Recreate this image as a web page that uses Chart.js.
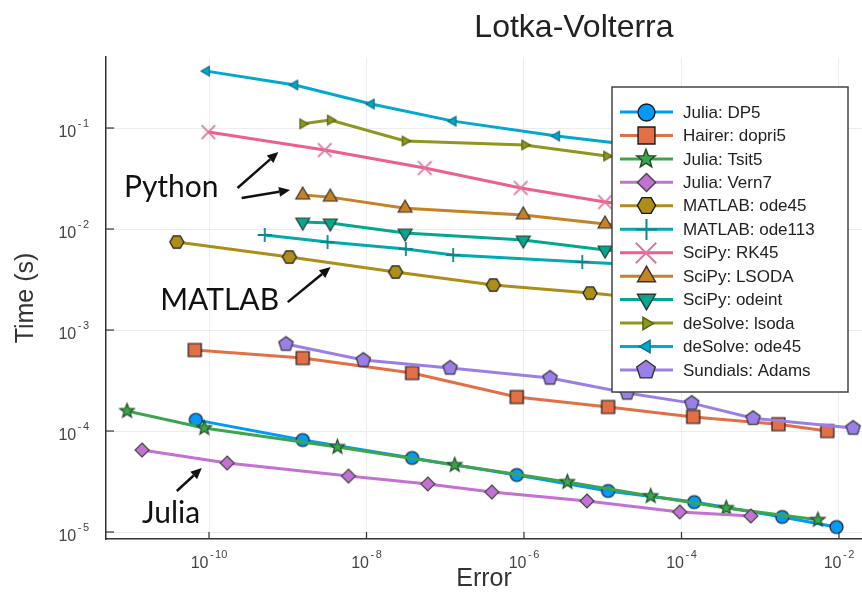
<!DOCTYPE html>
<html>
<head>
<meta charset="utf-8">
<title>Lotka-Volterra</title>
<script src="https://cdn.jsdelivr.net/npm/chart.js@4.4.0/dist/chart.umd.min.js"></script>
<style>
  html, body { margin: 0; padding: 0; background: #fff; }
  #wrap { width: 862px; height: 594px; }
</style>
</head>
<body>
<div id="wrap"><canvas id="lvChart" width="862" height="594"></canvas></div>
<script>
const FONT = "'Liberation Sans', Arial, sans-serif";

const seriesNames = [
    'Julia: DP5', 'Hairer: dopri5', 'Julia: Tsit5', 'Julia: Vern7',
    'MATLAB: ode45', 'MATLAB: ode113', 'SciPy: RK45', 'SciPy: LSODA',
    'SciPy: odeint', 'deSolve: lsoda', 'deSolve: ode45', 'Sundials: Adams'
];
const seriesColors = [
    '#009AFA', '#E36F47', '#3EA44E', '#C371D2',
    '#AC8E18', '#00AAAE', '#ED5E93', '#C68225',
    '#00A98D', '#8E971E', '#00A9CD', '#9B7FE8'
];

// error / time (s) per solver
const dp5Err = [6.8e-11, 1.55e-9, 3.8e-8, 8.1e-7, 1.17e-5, 1.45e-4, 1.9e-3, 9.3e-3];
const dp5Time = [1.29e-4, 8.15e-5, 5.41e-5, 3.67e-5, 2.55e-5, 1.98e-5, 1.41e-5, 1.12e-5];
const dopriErr = [6.6e-11, 1.55e-9, 3.8e-8, 8.1e-7, 1.17e-5, 1.41e-4, 1.7e-3, 7.1e-3];
const dopriTime = [6.34e-4, 5.28e-4, 3.75e-4, 2.17e-4, 1.73e-4, 1.38e-4, 1.17e-4, 1.0e-4];
const tsit5Err = [9.1e-12, 8.7e-11, 4.27e-9, 1.32e-7, 3.55e-6, 4.07e-5, 3.7e-4, 5.4e-3];
const tsit5Time = [1.58e-4, 1.07e-4, 6.95e-5, 4.61e-5, 3.13e-5, 2.27e-5, 1.73e-5, 1.32e-5];
const vern7Err = [1.41e-11, 1.7e-10, 5.9e-9, 6.0e-8, 3.9e-7, 6.3e-6, 9.5e-5, 7.6e-4];
const vern7Time = [6.48e-5, 4.82e-5, 3.58e-5, 2.99e-5, 2.49e-5, 2.03e-5, 1.58e-5, 1.44e-5];
const mlOde45Err = [3.9e-11, 1.05e-9, 2.34e-8, 4.07e-7, 6.9e-6, 1.0e-4];
const mlOde45Time = [7.43e-3, 5.28e-3, 3.75e-3, 2.79e-3, 2.32e-3, 1.9e-3];
const ode113Err = [5.1e-10, 3.2e-9, 3.16e-8, 1.26e-7, 5.5e-6, 1.0e-4];
const ode113Time = [8.73e-3, 7.43e-3, 6.34e-3, 5.53e-3, 4.71e-3, 4.2e-3];
const rk45Err = [9.8e-11, 2.95e-9, 5.5e-8, 9.1e-7, 1.07e-5, 1.7e-4];
const rk45Time = [0.0912, 0.0605, 0.0402, 0.0255, 0.0185, 0.0138];
const lsodaErr = [1.55e-9, 3.47e-9, 3.09e-8, 9.8e-7, 1.07e-5, 1.26e-4];
const lsodaTime = [0.0217, 0.0207, 0.0161, 0.0138, 0.0112, 0.0095];
const odeintErr = [1.55e-9, 3.47e-9, 3.09e-8, 9.8e-7, 1.07e-5, 1.26e-4];
const odeintTime = [0.01172, 0.01146, 0.00912, 0.00778, 0.00619, 0.0052];
const dsLsodaErr = [1.55e-9, 3.47e-9, 3.09e-8, 1.02e-6, 1.12e-5, 1.29e-4];
const dsLsodaTime = [0.110, 0.120, 0.0743, 0.068, 0.0528, 0.043];
const dsOde45Err = [9.3e-11, 1.23e-9, 1.15e-8, 1.26e-7, 2.6e-6, 4.0e-5];
const dsOde45Time = [0.366, 0.267, 0.173, 0.117, 0.0833, 0.065];
const adamsErr = [9.5e-10, 9.1e-9, 1.15e-7, 2.14e-6, 2.04e-5, 1.35e-4, 8.1e-4, 1.51e-2];
const adamsTime = [7.26e-4, 5.04e-4, 4.21e-4, 3.35e-4, 2.38e-4, 1.89e-4, 1.34e-4, 1.07e-4];

const allErr = [dp5Err, dopriErr, tsit5Err, vern7Err, mlOde45Err, ode113Err, rk45Err, lsodaErr, odeintErr, dsLsodaErr, dsOde45Err, adamsErr];
const allTime = [dp5Time, dopriTime, tsit5Time, vern7Time, mlOde45Time, ode113Time, rk45Time, lsodaTime, odeintTime, dsLsodaTime, dsOde45Time, adamsTime];

const xTickValues = [1e-10, 1e-8, 1e-6, 1e-4, 1e-2];
const yTickValues = [1e-5, 1e-4, 1e-3, 1e-2, 1e-1];
const xRange = [4.92e-12, 1.96e-2];
const yRange = [8.53e-6, 0.505];

// hand-written labels with arrows (data coordinates)
const noteLabels = ['Python', 'MATLAB', 'Julia'];
const noteAt = [[8.3e-12, 0.0261], [2.4e-11, 1.98e-3], [1.41e-11, 1.54e-5]];
const arrowFrom = [[2.3e-10, 0.0255], [2.6e-10, 0.0203], [1.0e-9, 1.89e-3], [3.9e-11, 2.55e-5]];
const arrowTo = [[7.6e-10, 0.0578], [1.07e-9, 0.0243], [3.5e-9, 4.2e-3], [8.1e-11, 4.3e-5]];

const markerShapes = ['circle', 'square', 'star', 'diamond', 'hexagon', 'plus', 'cross', 'triUp', 'triDown', 'triRight', 'triLeft', 'pentagon'];
const markerSizes = [6.5, 6.5, 7.5, 7, 7, 7, 8.5, 8, 8, 5.5, 5.5, 7.5];
const markerEdges = ['#1a1a1a', '#1a1a1a', '#1e4d22', '#444', '#1a1a1a', '#0a8589', '#d77a9c', '#333', '#333', '#55600f', '#0a6f86', '#333'];

function polyPath(g, n, r, a0) {
    for (let k = 0; k < n; k++) {
        const a = a0 + 2 * Math.PI * k / n;
        if (k === 0) g.moveTo(r * Math.cos(a), r * Math.sin(a));
        else g.lineTo(r * Math.cos(a), r * Math.sin(a));
    }
    g.closePath();
}

function markerCanvas(shape, r, fill, stroke, lw) {
    const pad = Math.ceil(lw) + 1;
    const size = Math.ceil(2 * r + 2 * pad);
    const c = document.createElement('canvas');
    c.width = size; c.height = size;
    const g = c.getContext('2d');
    g.translate(size / 2, size / 2);
    g.lineWidth = lw; g.strokeStyle = stroke; g.fillStyle = fill;
    g.beginPath();
    let filled = true;
    if (shape === 'circle') g.arc(0, 0, r, 0, 2 * Math.PI);
    else if (shape === 'square') g.rect(-r, -r, 2 * r, 2 * r);
    else if (shape === 'diamond') polyPath(g, 4, r, -Math.PI / 2);
    else if (shape === 'hexagon') polyPath(g, 6, r, 0);
    else if (shape === 'pentagon') polyPath(g, 5, r, -Math.PI / 2);
    else if (shape === 'triUp') polyPath(g, 3, r, -Math.PI / 2);
    else if (shape === 'triDown') polyPath(g, 3, r, Math.PI / 2);
    else if (shape === 'triRight') polyPath(g, 3, r, 0);
    else if (shape === 'triLeft') polyPath(g, 3, r, Math.PI);
    else if (shape === 'star') {
        for (let k = 0; k < 10; k++) {
            const a = -Math.PI / 2 + Math.PI * k / 5;
            const rr = k % 2 === 0 ? r : r * 0.42;
            if (k === 0) g.moveTo(rr * Math.cos(a), rr * Math.sin(a));
            else g.lineTo(rr * Math.cos(a), rr * Math.sin(a));
        }
        g.closePath();
    } else if (shape === 'plus') {
        filled = false;
        g.moveTo(-r, 0); g.lineTo(r, 0); g.moveTo(0, -r); g.lineTo(0, r);
    } else if (shape === 'cross') {
        filled = false;
        const d = r * 0.8;
        g.moveTo(-d, -d); g.lineTo(d, d); g.moveTo(-d, d); g.lineTo(d, -d);
    }
    if (filled) g.fill();
    g.stroke();
    return c;
}

const plotMarkers = markerShapes.map((s, i) =>
    markerCanvas(s, markerSizes[i], seriesColors[i], markerEdges[i], (s === 'plus' || s === 'cross') ? 1.8 : 1.2));
const legendMarkers = markerShapes.map((s, i) =>
    markerCanvas(s, markerSizes[i] * ((s === 'plus' || s === 'cross') ? 1.5 : 1.3), seriesColors[i], markerEdges[i], (s === 'plus' || s === 'cross') ? 2 : 1.4));

const datasets = seriesNames.map((name, i) => ({
    label: name,
    data: allErr[i].map((e, k) => ({ x: e, y: allTime[i][k] })),
    borderColor: seriesColors[i],
    backgroundColor: seriesColors[i],
    borderWidth: 3,
    pointStyle: plotMarkers[i],
    pointRadius: 6,
    pointHoverRadius: 6,
    tension: 0,
    fill: false,
    order: -i
}));

function drawArrow(ctx, x1, y1, x2, y2) {
    const ang = Math.atan2(y2 - y1, x2 - x1);
    const head = 11, half = 5;
    const bx = x2 - head * Math.cos(ang), by = y2 - head * Math.sin(ang);
    ctx.beginPath();
    ctx.moveTo(x1, y1);
    ctx.lineTo(bx, by);
    ctx.stroke();
    ctx.beginPath();
    ctx.moveTo(x2, y2);
    ctx.lineTo(bx + half * Math.sin(ang), by - half * Math.cos(ang));
    ctx.lineTo(bx - half * Math.sin(ang), by + half * Math.cos(ang));
    ctx.closePath();
    ctx.fill();
}

// "10" with a raised exponent, like the Plots.jl tick labels
function drawPow(ctx, v, x, baseY, align) {
    const exp = Math.round(Math.log10(v));
    const digits = String(Math.abs(exp));
    ctx.font = '16px ' + FONT;
    const wBase = ctx.measureText('10').width;
    ctx.font = '11px ' + FONT;
    const wMinus = exp < 0 ? ctx.measureText('-').width + 1.5 : 0;
    const wDig = ctx.measureText(digits).width;
    const total = wBase + 1.5 + wMinus + wDig;
    let sx = align === 'right' ? x - total : x - total / 2;
    ctx.textAlign = 'left';
    ctx.textBaseline = 'alphabetic';
    ctx.font = '16px ' + FONT;
    ctx.fillText('10', sx, baseY);
    sx += wBase + 1.5;
    ctx.font = '11px ' + FONT;
    if (exp < 0) { ctx.fillText('-', sx, baseY - 10); sx += wMinus; }
    ctx.fillText(digits, sx, baseY - 10);
}

const decorPlugin = {
    id: 'decor',
    afterDraw(chart) {
        const ctx = chart.ctx;
        const area = chart.chartArea;
        const xs = chart.scales.x, ys = chart.scales.y;

        ctx.save();
        // inward tick marks + tick labels
        ctx.strokeStyle = '#333';
        ctx.lineWidth = 1.2;
        ctx.fillStyle = '#444';
        xTickValues.forEach(v => {
            const px = xs.getPixelForValue(v);
            ctx.beginPath(); ctx.moveTo(px, area.bottom); ctx.lineTo(px, area.bottom - 7); ctx.stroke();
            drawPow(ctx, v, px, area.bottom + 29, 'center');
        });
        yTickValues.forEach(v => {
            const py = ys.getPixelForValue(v);
            ctx.beginPath(); ctx.moveTo(area.left, py); ctx.lineTo(area.left + 8, py); ctx.stroke();
            drawPow(ctx, v, area.left - 17, py + 9, 'right');
        });

        // title
        ctx.fillStyle = '#222';
        ctx.font = '32px ' + FONT;
        ctx.textAlign = 'center';
        ctx.textBaseline = 'middle';
        ctx.fillText('Lotka-Volterra', area.left + 0.619 * (area.right - area.left), 28);

        // annotations
        ctx.font = '30px Lato, ' + FONT;
        ctx.textAlign = 'left';
        ctx.fillStyle = '#111';
        noteLabels.forEach((t, i) => {
            ctx.fillText(t, xs.getPixelForValue(noteAt[i][0]), ys.getPixelForValue(noteAt[i][1]));
        });
        ctx.strokeStyle = '#111';
        ctx.lineWidth = 2.5;
        arrowFrom.forEach((f, i) => {
            drawArrow(ctx,
                xs.getPixelForValue(f[0]), ys.getPixelForValue(f[1]),
                xs.getPixelForValue(arrowTo[i][0]), ys.getPixelForValue(arrowTo[i][1]));
        });

        // legend
        const lx = area.right - 250, ly = area.top + 30, lw = 236, lh = 305;
        ctx.fillStyle = '#fff';
        ctx.fillRect(lx, ly, lw, lh);
        ctx.strokeStyle = '#444';
        ctx.lineWidth = 1.5;
        ctx.strokeRect(lx, ly, lw, lh);
        ctx.font = '17px ' + FONT;
        ctx.textBaseline = 'middle';
        seriesNames.forEach((name, i) => {
            const cy = ly + 25 + i * 23.45;
            ctx.strokeStyle = seriesColors[i];
            ctx.lineWidth = 3;
            ctx.beginPath(); ctx.moveTo(lx + 8, cy); ctx.lineTo(lx + 61, cy); ctx.stroke();
            const m = legendMarkers[i];
            ctx.drawImage(m, Math.round(lx + 34 - m.width / 2), Math.round(cy - m.height / 2));
            ctx.fillStyle = '#222';
            ctx.fillText(name, lx + 71, cy + 1);
        });
        ctx.restore();
    }
};

new Chart(document.getElementById('lvChart'), {
    type: 'line',
    data: { datasets: datasets },
    options: {
        responsive: false,
        animation: false,
        devicePixelRatio: 1,
        layout: { autoPadding: false, padding: { top: 57, right: 0, bottom: 0, left: 0 } },
        plugins: { legend: { display: false }, tooltip: { enabled: false }, title: { display: false } },
        scales: {
            x: {
                type: 'logarithmic',
                position: 'bottom',
                min: xRange[0],
                max: xRange[1],
                afterBuildTicks: s => { s.ticks = xTickValues.map(v => ({ value: v })); },
                afterFit: s => { s.height = 55; },
                ticks: { display: false },
                grid: { color: '#ececec', drawTicks: false },
                border: { color: '#333', width: 1.5 },
                title: {
                    display: true, text: 'Error', color: '#333',
                    font: { family: FONT, size: 25, lineHeight: 1 },
                    padding: { top: 0, bottom: 2 }
                }
            },
            y: {
                type: 'logarithmic',
                position: 'left',
                min: yRange[0],
                max: yRange[1],
                afterBuildTicks: s => { s.ticks = yTickValues.map(v => ({ value: v })); },
                afterFit: s => { s.width = 106; },
                ticks: { display: false },
                grid: { color: '#ececec', drawTicks: false },
                border: { color: '#333', width: 1.5 },
                title: {
                    display: true, text: 'Time (s)', color: '#333',
                    font: { family: FONT, size: 25, lineHeight: 1 },
                    padding: { top: 14, bottom: 0 }
                }
            }
        }
    },
    plugins: [decorPlugin]
});
</script>
</body>
</html>
